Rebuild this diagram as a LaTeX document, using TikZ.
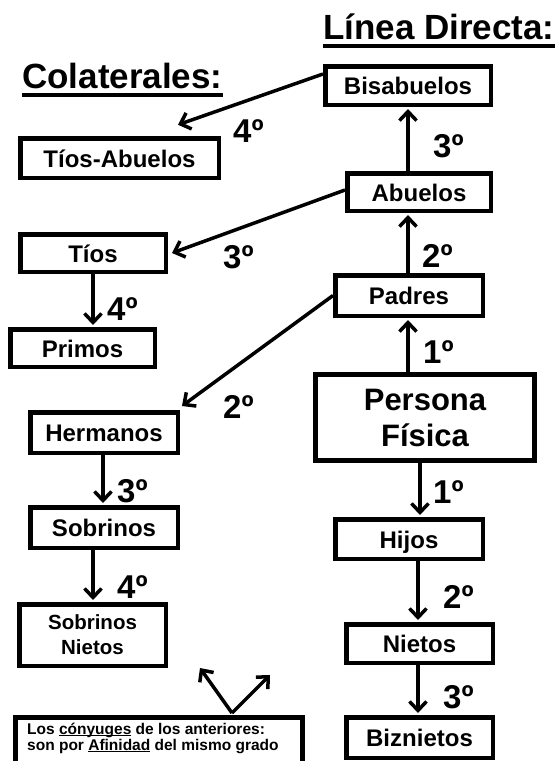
\documentclass[tikz,border=0pt]{standalone}
\usepackage{fontspec}
\setmainfont{Liberation Sans}
\usetikzlibrary{arrows.meta}
\newcommand\ulin[1]{\setbox0\hbox{#1}\rlap{\rule[-2.2pt]{\wd0}{1.4pt}}\box0\relax}
\begin{document}
\begin{tikzpicture}[x=1pt,y=-1pt,
  basebox/.style={draw, line width=4.5pt, inner sep=0pt, align=center},
  box/.style={basebox, font=\fontsize{24}{26}\selectfont\bfseries, text height=18pt, text depth=0pt},
  deg/.style={anchor=base west, inner sep=0pt, font=\fontsize{33}{36}\selectfont\bfseries},
  ttl/.style={anchor=base west, inner sep=0pt, font=\fontsize{35}{40}\selectfont\bfseries},
  arr/.style={line width=3.5pt, -{Straight Barb[length=9pt,width=17pt]}}]
\useasboundingbox (0,0) rectangle (555,761);
% titles
\node[ttl] (tlin) at (323,39) {Línea Directa:};
\draw[line width=4pt] ([yshift=-7pt]tlin.base west) -- ([yshift=-7pt]tlin.base east);
\node[ttl] (tcol) at (22,88) {Colaterales:};
\draw[line width=4pt] ([yshift=-6.5pt]tcol.base west) -- ([yshift=-6.5pt]tcol.base east);
% direct line
\node[box, minimum width=165.5pt, minimum height=38.5pt] (bisa) at (408,85.5) {Bisabuelos};
\node[box, minimum width=143.5pt, minimum height=37.5pt] (abu) at (419,192) {Abuelos};
\node[box, minimum width=147.5pt, minimum height=40.5pt] (padres) at (409,295.5) {Padres};
\node[basebox, line width=5pt, minimum width=219pt, minimum height=86pt,
      font=\fontsize{31}{36}\selectfont\bfseries] (pers) at (425,417.5) {Persona\\Física};
\node[box, minimum width=147.5pt, minimum height=39.5pt] (hijos) at (409,539) {Hijos};
\node[box, minimum width=146.5pt, minimum height=38.5pt] (nietos) at (419.5,643.5) {Nietos};
\node[box, minimum width=146.5pt, minimum height=40.5pt] (biz) at (419.5,737.5) {Biznietos};
% collaterals
\node[box, minimum width=198.5pt, minimum height=39.5pt] (tiosab) at (119.5,158) {Tíos-Abuelos};
\node[box, minimum width=145.5pt, minimum height=37.5pt] (tios) at (93,253) {Tíos};
\node[box, minimum width=144.5pt, minimum height=37.5pt] (primos) at (82.5,348) {Primos};
\node[box, minimum width=147.5pt, minimum height=40.5pt] (herm) at (104,432.5) {Hermanos};
\node[box, minimum width=147.5pt, minimum height=40.5pt] (sobr) at (104,527.5) {Sobrinos};
\node[basebox, minimum width=146.5pt, minimum height=61.5pt,
      font=\fontsize{20.5}{25}\selectfont\bfseries] (sn) at (92.5,635) {Sobrinos\\Nietos};
% note
\node[draw, line width=5pt, minimum width=287pt, minimum height=72.5pt, inner sep=0pt] (note) at (159,753.75) {};
\node[anchor=north west, inner sep=0pt, align=left, font=\fontsize{15.5}{16}\selectfont\bfseries] (notetxt)
  at (27,722.5) {Los \ulin{cónyuges} de los anteriores:\\son por \ulin{Afinidad} del mismo grado};
\coordinate (apex) at ([xshift=73pt,yshift=2pt]note.north);
\coordinate (cl) at (200,668);
\coordinate (cr) at (270,675);
\draw[arr] (apex) -- (cl);
\draw[arr] (apex) -- (cr);
% connectors direct line
\draw[arr, shorten >=2pt] ([xshift=-11pt]abu.north) -- (bisa.south);
\draw[arr, shorten >=2pt] ([xshift=-1pt]padres.north) -- ([xshift=-11pt]abu.south);
\draw[arr, shorten >=2pt] ([xshift=-17pt]pers.north) -- ([xshift=-1pt]padres.south);
\draw[arr, shorten >=2pt] ([xshift=-5pt]pers.south) -- ([xshift=11pt]hijos.north);
\draw[arr, shorten >=2pt] ([xshift=9pt]hijos.south) -- ([xshift=-1.5pt]nietos.north);
\draw[arr, shorten >=2pt] ([xshift=-1.5pt]nietos.south) -- ([xshift=-1.5pt]biz.north);
% connectors collaterals
\draw[arr] ([yshift=11.5pt]bisa.west) -- ([xshift=58.5pt,yshift=11.25pt]tiosab.north);
\draw[arr] ([yshift=2pt]abu.west) -- ([xshift=4pt]tios.east);
\draw[arr] (padres.west) -- ([xshift=2pt,yshift=4pt]herm.north east);
\draw[arr, shorten >=2pt] (tios.south) -- ([xshift=10.5pt]primos.north);
\draw[arr, shorten >=2pt] ([xshift=-1pt]herm.south) -- ([xshift=-1pt]sobr.north);
\draw[arr, shorten >=2pt] ([xshift=-11pt]sobr.south) -- ([xshift=0.5pt]sn.north);
% degree labels
\node[deg] (d1) at (233,142) {4º};
\node[deg] (d2) at (433,157) {3º};
\node[deg] (d3) at (223,268) {3º};
\node[deg] (d4) at (422,267) {2º};
\node[deg] (d5) at (107,320) {4º};
\node[deg] (d6) at (423,363) {1º};
\node[deg] (d7) at (223,418) {2º};
\node[deg] (d8) at (117,502) {3º};
\node[deg] (d9) at (433,503) {1º};
\node[deg] (d10) at (117,598) {4º};
\node[deg] (d11) at (443,608) {2º};
\node[deg] (d12) at (443,708) {3º};
\end{tikzpicture}
\end{document}
